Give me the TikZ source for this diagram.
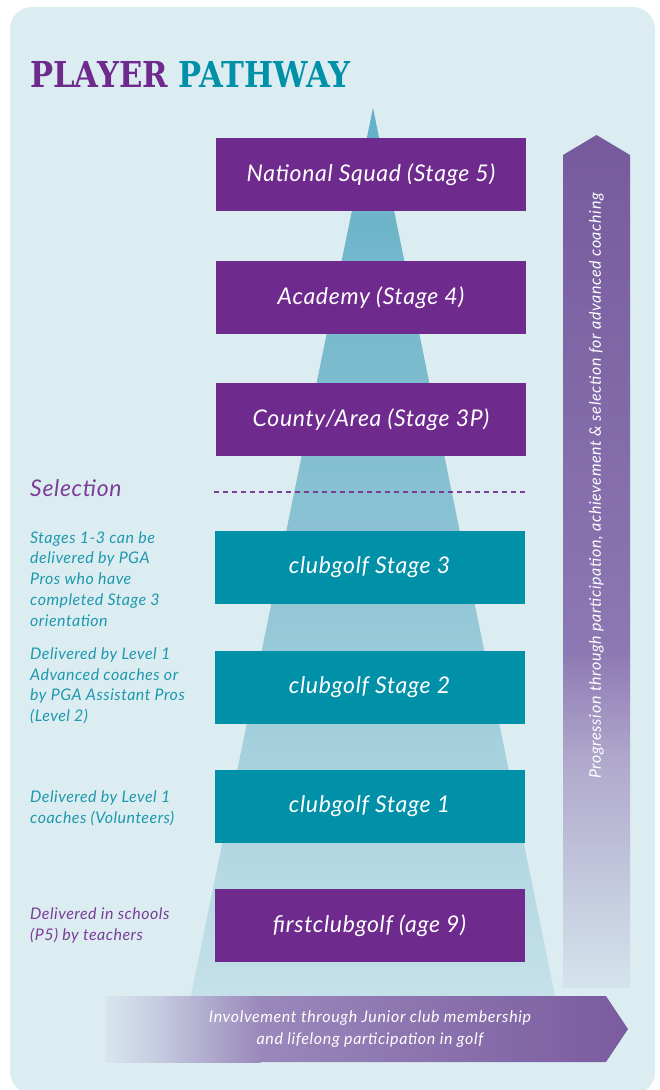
\documentclass[tikz,border=0pt]{standalone}
\usepackage{fontspec}
\setmainfont{Lato}
\newfontfamily\titlefont{DejaVu Serif}
\usepackage{graphicx}
\definecolor{bgc}{HTML}{DCEDF2}
\definecolor{pur}{HTML}{6E2A8C}
\definecolor{tea}{HTML}{0090A8}
\definecolor{ltea}{HTML}{1E98AE}
\definecolor{lpur}{HTML}{7A3D98}
\definecolor{coneA}{HTML}{64B0C6}
\definecolor{coneB}{HTML}{8EC4D4}
\definecolor{coneC}{HTML}{C8E2EA}
\definecolor{arA}{HTML}{765A9D}
\definecolor{arB}{HTML}{8C78B2}
\definecolor{arC}{HTML}{B0A8CC}
\definecolor{arD}{HTML}{D4E4EC}
\definecolor{baA}{HTML}{D8E6EE}
\definecolor{baB}{HTML}{C4CADF}
\definecolor{baC}{HTML}{9A88BB}
\definecolor{baD}{HTML}{7A5B9F}
\tikzset{
  stagebox/.style={minimum width=310pt, minimum height=73pt, inner sep=0pt,
    text=white, font=\fontsize{23}{26}\selectfont\itshape\addfontfeature{LetterSpace=3}},
  purbox/.style={stagebox, fill=pur},
  teabox/.style={stagebox, fill=tea},
  sidenote/.style={anchor=base west, inner sep=0pt, align=left,
    font=\fontsize{16}{20.75}\selectfont\itshape\addfontfeature{LetterSpace=3}},
  arrowtext/.style={inner sep=0pt, text=white, align=center,
    font=\fontsize{16}{22}\selectfont\itshape\addfontfeature{LetterSpace=4}}
}
\begin{document}
\begin{tikzpicture}[x=1pt,y=-1pt]
\useasboundingbox (0,0) rectangle (660,1090);
% background panel
\fill[bgc, rounded corners=22pt] (10,7) rectangle (655,1094);
% title
\node[anchor=base west, inner sep=0pt] (title) at (30,87)
  {\resizebox{320pt}{26pt}{\titlefont\bfseries\textcolor{pur}{PLAYER} \textcolor{tea}{PATHWAY}}};
% cone
\shade[top color=coneA, bottom color=coneC, middle color=coneB]
  (373,108) -- (186,1020) -- (560,1020) -- cycle;
% right progression arrow
\shade[top color=arA, bottom color=arB] (563,650) -- (563,155) -- (596.5,135) -- (630,155) -- (630,650) -- cycle;
\shade[top color=arB, bottom color=arC] (563,649.5) rectangle (630,760);
\shade[top color=arC, bottom color=arD] (563,759.5) rectangle (630,987);
\node[arrowtext, rotate=90] (prog) at (596.5,486)
  {Progression through participation, achievement \& selection for advanced coaching};
% bottom involvement arrow
\shade[left color=baA, right color=baB] (105,996) rectangle (160.5,1062);
\shade[left color=baB, right color=baC] (160,996) rectangle (260.5,1062);
\shade[left color=baC, right color=baD] (260,996) -- (606,996) -- (628,1029) -- (606,1062) -- (260,1062) -- cycle;
\node[arrowtext] (invol) at (370,1029)
  {Involvement through Junior club membership\\and lifelong participation in golf};
% stage boxes
\node[purbox] (s5) at (371,174.5) {National Squad (Stage 5)};
\node[purbox] (s4) at (371,297.5) {Academy (Stage 4)};
\node[purbox] (s3p) at (371,419.5) {County/Area (Stage 3P)};
\node[teabox] (c3) at (369.5,567.5) {clubgolf Stage 3};
\node[teabox] (c2) at (369.5,687.5) {clubgolf Stage 2};
\node[teabox] (c1) at (369.5,806.5) {clubgolf Stage 1};
\node[purbox] (fc) at (369.5,925.5) {firstclubgolf (age 9)};
% selection line
\coordinate (selL) at (214,492);
\coordinate (selR) at (525,492);
\draw[lpur, line width=1.4pt, dash pattern=on 5pt off 4pt] (selL) -- (selR);
\node[anchor=base west, inner sep=0pt, text=lpur, font=\fontsize{23}{26}\selectfont\itshape\addfontfeature{LetterSpace=3}] (sel) at (30,496) {Selection};
% side notes (base anchor = baseline of last line)
\node[sidenote, text=ltea] (n3) at (30,626) {Stages 1-3 can be\\delivered by PGA\\Pros who have\\completed Stage 3\\orientation};
\node[sidenote, text=ltea] (n2) at (30,721.5) {Delivered by Level 1\\Advanced coaches or\\by PGA Assistant Pros\\(Level 2)};
\node[sidenote, text=ltea] (n1) at (30,823) {Delivered by Level 1\\coaches (Volunteers)};
\node[sidenote, text=lpur] (n0) at (30,940) {Delivered in schools\\(P5) by teachers};
\end{tikzpicture}
\end{document}
